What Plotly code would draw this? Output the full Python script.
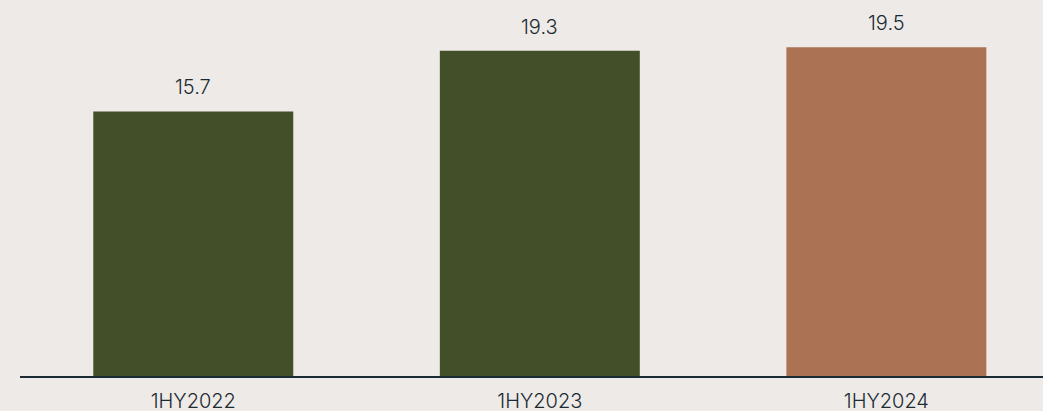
import plotly.graph_objects as go

categories = ["1HY2022", "1HY2023", "1HY2024"]
values = [15.7, 19.3, 19.5]
colors = ["#434F28", "#434F28", "#AC7254"]

BG = "#EEEAE7"
TEXT = "#1B2A33"

fig = go.Figure()
fig.add_trace(go.Bar(
    x=categories, y=values, marker=dict(color=colors, line=dict(width=0)),
    width=0.577, hoverinfo="skip",
))
for c, v in zip(categories, values):
    fig.add_annotation(x=c, y=v, text=f"{v:.1f}", showarrow=False,
                       yanchor="bottom", yshift=10,
                       font=dict(family="Inter", size=20, color=TEXT, weight=300))

fig.update_layout(
    width=1043, height=411,
    margin=dict(l=20, r=0, t=0, b=35, autoexpand=False),
    paper_bgcolor=BG, plot_bgcolor=BG,
    showlegend=False,
    font=dict(family="Inter", size=20, color=TEXT, weight=300),
    xaxis=dict(range=[-0.5, 2.452], showgrid=False, zeroline=False,
               showline=True, linecolor=TEXT, linewidth=2, automargin=False,
               ticks="", ticklabelstandoff=6,
               tickfont=dict(family="Inter", size=20, color=TEXT, weight=300)),
    yaxis=dict(range=[0, 22.31], visible=False, automargin=False),
)
fig.write_html("out.html")
